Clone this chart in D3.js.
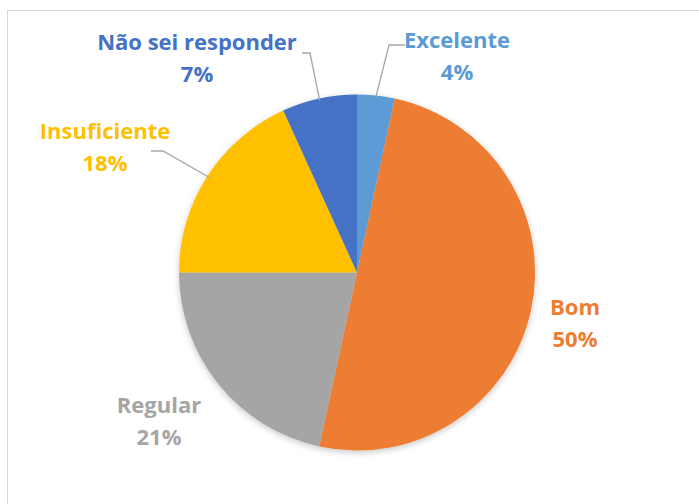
<!DOCTYPE html>
<html>
<head>
<meta charset="utf-8">
<script src="https://cdn.jsdelivr.net/npm/d3@7.9.0/dist/d3.min.js"></script>
<style>
  html, body { margin: 0; padding: 0; background: #fff; }
  svg { display: block; }
</style>
</head>
<body>
<svg id="chart" width="699" height="504"></svg>
<script>
// data (clockwise from 12 o'clock)
const categories = ["Excelente", "Bom", "Regular", "Insuficiente", "Não sei responder"];
const shares = [3.4, 50.0, 21.6, 18.2, 6.8];
const pctLabels = ["4%", "50%", "21%", "18%", "7%"];
const colors = ["#5B9BD5", "#ED7D31", "#A5A5A5", "#FFC000", "#4472C4"];

const svg = d3.select("#chart");
const cx = 357, cy = 272.5, r = 178;

// outer chart frame (runs off the right and bottom edges)
svg.append("rect")
  .attr("x", 7.5).attr("y", 10.5)
  .attr("width", 720).attr("height", 520)
  .attr("fill", "#fff")
  .attr("stroke", "#d9d9d9")
  .attr("stroke-width", 1);

const defs = svg.append("defs");
const f = defs.append("filter").attr("id", "shadow")
  .attr("x", "-10%").attr("y", "-10%").attr("width", "120%").attr("height", "120%");
f.append("feDropShadow")
  .attr("dx", 0).attr("dy", 2).attr("stdDeviation", 3)
  .attr("flood-color", "#000").attr("flood-opacity", 0.22);

const data = categories.map((c, i) => ({ name: c, value: shares[i], label: pctLabels[i], color: colors[i] }));

const pie = d3.pie().value(d => d.value).sort(null);
const arc = d3.arc().innerRadius(0).outerRadius(r);
const arcs = pie(data);

const g = svg.append("g").attr("transform", `translate(${cx},${cy})`);
g.append("g").attr("filter", "url(#shadow)")
  .selectAll("path")
  .data(arcs)
  .join("path")
  .attr("d", arc)
  .attr("fill", d => d.data.color);

// leader lines: label anchor -> elbow -> point on the slice edge
const pointAt = (a, rr) => [cx + rr * Math.sin(a), cy - rr * Math.cos(a)];
const leaders = {
  "Excelente": a => [[405, 45], [389, 45], pointAt(a, r - 2)],
  "Não sei responder": a => [[302, 53], [310, 53], pointAt(a, r - 2)],
  "Insuficiente": a => [[151, 151], [163, 151], pointAt(a, r - 2)]
};
arcs.forEach(d => {
  const fn = leaders[d.data.name];
  if (!fn) return;
  const mid = (d.startAngle + d.endAngle) / 2;
  svg.append("path")
    .attr("d", d3.line()(fn(mid)))
    .attr("fill", "none")
    .attr("stroke", "#a6a6a6")
    .attr("stroke-width", 1.3);
});

// label positions (centre of the two-line block)
const labelPos = {
  "Excelente": [457, 40],
  "Bom": [575, 307],
  "Regular": [159, 405],
  "Insuficiente": [105, 131],
  "Não sei responder": [197, 42]
};

arcs.forEach(d => {
  const [x, y] = labelPos[d.data.name];
  const t = svg.append("text")
    .attr("x", x).attr("y", y)
    .attr("text-anchor", "middle")
    .attr("fill", d.data.color)
    .style("font-family", "'Open Sans', sans-serif")
    .style("font-weight", "bold")
    .style("font-size", "22px");
  t.append("tspan").attr("x", x).attr("dy", "0.35em").text(d.data.name);
  t.append("tspan").attr("x", x).attr("dy", "1.48em").text(d.data.label);
});
</script>
</body>
</html>
